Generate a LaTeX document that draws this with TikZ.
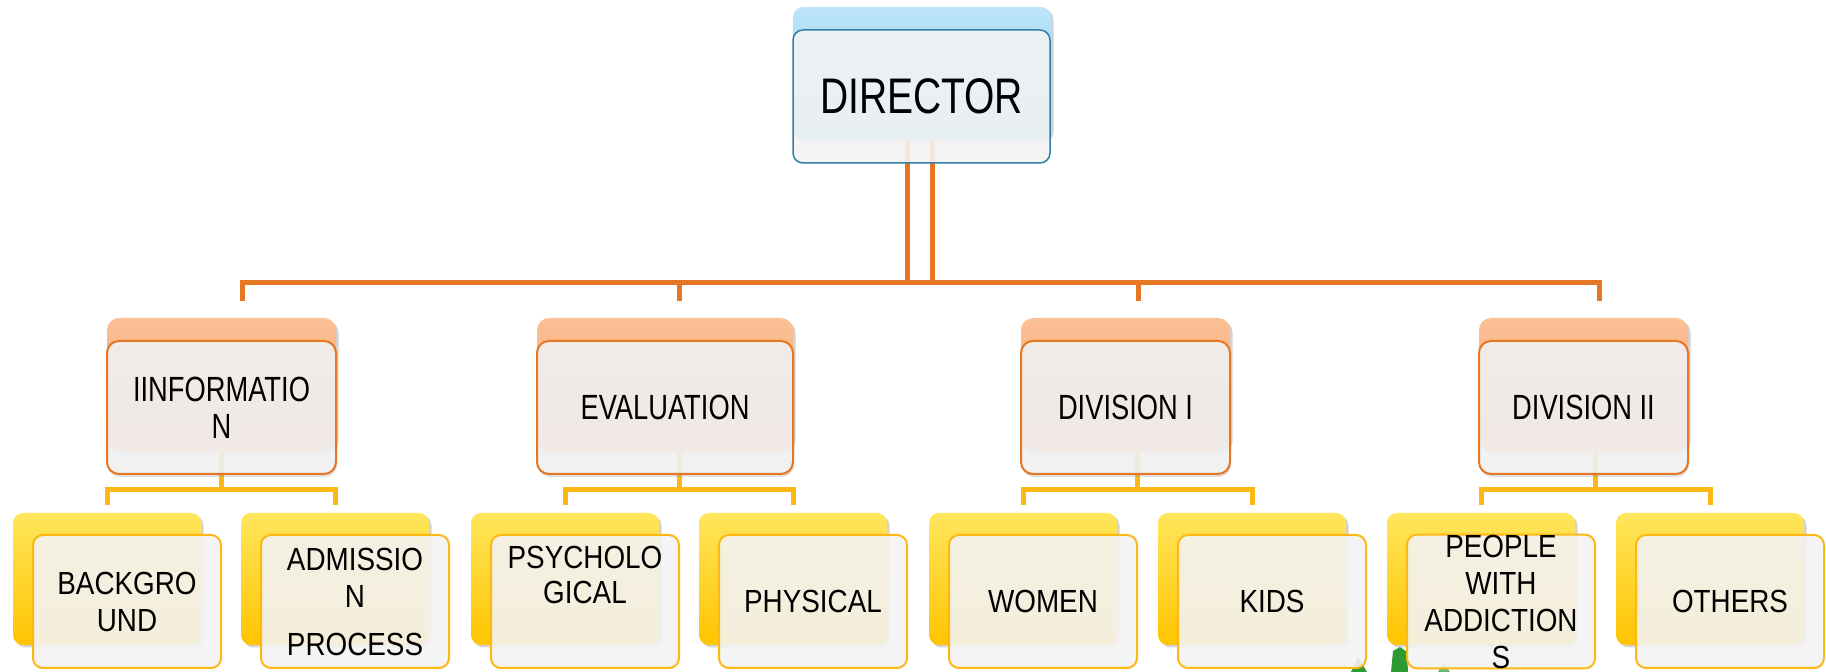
\documentclass[tikz,border=0pt]{standalone}
\usepackage{fontspec}
\setmainfont{Liberation Sans}
\newfontfamily\headfont{Liberation Sans}[FakeStretch=0.78]
\newfontfamily\leaffont{Liberation Sans}[FakeStretch=0.87]
\usetikzlibrary{shadows, calc}

\definecolor{dirblue}{HTML}{2F80A6}
\definecolor{tabblueA}{HTML}{BDE5FB}
\definecolor{tabblueB}{HTML}{86CBF0}
\definecolor{lineorange}{HTML}{E57623}
\definecolor{taborangeA}{HTML}{FCC196}
\definecolor{taborangeB}{HTML}{F5965A}
\definecolor{lineyellow}{HTML}{FDB813}
\definecolor{tabyellowA}{HTML}{FFE65C}
\definecolor{tabyellowB}{HTML}{FFC400}
\definecolor{facegrey}{HTML}{F3F3F3}
\definecolor{leafgreen}{HTML}{2E9A34}

\tikzset{
  tabshadow/.style={drop shadow={shadow xshift=2.5pt, shadow yshift=-2.5pt, opacity=0.35}},
  dirtab/.style={rounded corners=10pt, inner sep=0pt, minimum width=258pt, minimum height=133pt,
    top color=tabblueA, bottom color=tabblueB, tabshadow},
  dirface/.style={rounded corners=10pt, inner sep=0pt, minimum width=257pt, minimum height=133pt,
    draw=dirblue, line width=1.5pt, fill=facegrey, fill opacity=0.9, text opacity=1,
    font=\headfont\fontsize{50}{56}\selectfont},
  unittab/.style={rounded corners=12pt, inner sep=0pt, minimum width=#1, minimum height=133pt,
    top color=taborangeA, bottom color=taborangeB, tabshadow},
  unitface/.style={rounded corners=12pt, inner sep=0pt, minimum width=#1, minimum height=133pt,
    draw=lineorange, line width=2pt, fill=facegrey, fill opacity=0.9, text opacity=1,
    align=center, font=\headfont\fontsize{35}{37}\selectfont,
    drop shadow={shadow xshift=1pt, shadow yshift=-3pt, opacity=0.25}},
  leaftab/.style={rounded corners=10pt, inner sep=0pt, minimum width=188pt, minimum height=132pt,
    top color=tabyellowA, bottom color=tabyellowB, tabshadow},
  leafface/.style={rounded corners=10pt, inner sep=0pt, minimum width=188pt, minimum height=133pt,
    draw=lineyellow, line width=2pt, fill=facegrey, fill opacity=0.9, text opacity=1,
    align=center, font=\leaffont\fontsize{32}{37}\selectfont},
  leaftext/.style={align=center, inner sep=0pt, font=\leaffont\fontsize{32}{35.5}\selectfont},
  orgline/.style={lineorange, line width=5pt},
  subline/.style={lineyellow, line width=5pt},
}

\begin{document}
\begin{tikzpicture}[x=1pt, y=1pt]
\useasboundingbox (0,0) rectangle (1826,672);

% leaves peeking in at the bottom
\fill[leafgreen] (1351,0) -- (1358,15) -- (1367,0) -- cycle;
\fill[leafgreen] (1391,0) -- (1393,21) -- (1400,25) -- (1407,20) -- (1408,0) -- cycle;
\fill[leafgreen!70] (1438,0) -- (1443,10) -- (1450,0) -- cycle;

% back tabs
\node[dirtab] (dirtab) at (922,598.5) {};
\node[unittab=229pt] (infotab) at (221.5,287.5) {};
\node[unittab=256pt] (evaltab) at (665,287.5) {};
\node[unittab=209pt] (divonetab) at (1125.5,287.5) {};
\node[unittab=209pt] (divtwotab) at (1583.5,287.5) {};
\foreach \n/\x in {bg/107, adm/335, psy/565, phys/793, women/1023, kids/1252, people/1481, others/1710}
  \node[leaftab] (\n tab) at (\x,93) {};

% connectors
\coordinate (tapA) at (242,389);
\coordinate (tapB) at (679,389);
\coordinate (tapC) at (1138,389);
\coordinate (tapD) at (1599,389);
\draw[orgline] ([xshift=-15pt]dirtab.south) -- ([xshift=-15pt]dirtab.south |- tapA);
\draw[orgline] ([xshift=10pt]dirtab.south) -- ([xshift=10pt]dirtab.south |- tapA);
\draw[orgline] ([yshift=-18pt]tapA) -- (tapA) -- (tapD) -- ([yshift=-18pt]tapD);
\draw[orgline] (tapB) -- ([yshift=-18pt]tapB);
\draw[orgline] (tapC) -- ([yshift=-18pt]tapC);

\foreach \u/\a/\b in {info/bg/adm, eval/psy/phys, divone/women/kids, divtwo/people/others}{
  \coordinate (\u fork) at ($(\a tab.north)!0.5!(\b tab.north) + (0,23)$);
  \draw[subline] (\u fork) -- (\u fork |- \u tab.south);
  \draw[subline] ([yshift=8pt]\a tab.north) |- (\u fork) -| ([yshift=8pt]\b tab.north);
}

% front faces
\node[dirface] (director) at (921.5,575.5) {DIRECTOR};
\node[unitface=229pt] (info) at (221.5,264.5) {IINFORMATIO\\N};
\node[unitface=256pt] (eval) at (665,264.5) {EVALUATION};
\node[unitface=209pt] (divone) at (1125.5,264.5) {DIVISION I};
\node[unitface=209pt] (divtwo) at (1583.5,264.5) {DIVISION II};

\node[leafface] (bg) at (127,70.5) {BACKGRO\\UND};
\node[leafface] (adm) at (355,70.5) {ADMISSIO\\N\\[11pt]PROCESS};
\node[leafface] (psy) at (585,70.5) {};
\node[leaftext] (psytext) at (585,97) {PSYCHOLO\\GICAL};
\node[leafface] (phys) at (813,70.5) {PHYSICAL};
\node[leafface] (women) at (1043,70.5) {WOMEN};
\node[leafface] (kids) at (1272,70.5) {KIDS};
\node[leafface] (people) at (1501,70.5) {PEOPLE\\WITH\\ADDICTION\\S};
\node[leafface] (others) at (1730,70.5) {OTHERS};

\end{tikzpicture}
\end{document}
